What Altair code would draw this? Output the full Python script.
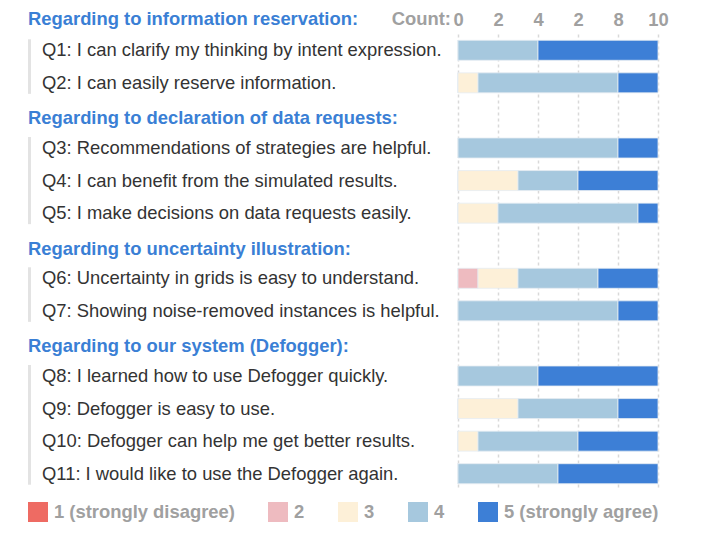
import altair as alt
import pandas as pd

FONT = "Liberation Sans"

q_keys = ["Q1", "Q2", "Q3", "Q4", "Q5", "Q6", "Q7", "Q8", "Q9", "Q10", "Q11"]
questions = [
    "Q1: I can clarify my thinking by intent expression.",
    "Q2: I can easily reserve information.",
    "Q3: Recommendations of strategies are helpful.",
    "Q4: I can benefit from the simulated results.",
    "Q5: I make decisions on data requests easily.",
    "Q6: Uncertainty in grids is easy to understand.",
    "Q7: Showing noise-removed instances is helpful.",
    "Q8: I learned how to use Defogger quickly.",
    "Q9: Defogger is easy to use.",
    "Q10: Defogger can help me get better results.",
    "Q11: I would like to use the Defogger again.",
]
group_keys = ["G1", "G2", "G3", "G4"]
group_titles = [
    "Regarding to information reservation:",
    "Regarding to declaration of data requests:",
    "Regarding to uncertainty illustration:",
    "Regarding to our system (Defogger):",
]
group_first = ["Q1", "Q3", "Q6", "Q8"]
group_last = ["Q2", "Q5", "Q7", "Q11"]

levels = ["1 (strongly disagree)", "2", "3", "4", "5 (strongly agree)"]
level_colors = ["#ee6b63", "#eebbc0", "#fdf0d8", "#a6c8de", "#3d7fd6"]
lvl1 = [0, 0, 0, 0, 0, 0, 0, 0, 0, 0, 0]
lvl2 = [0, 0, 0, 0, 0, 1, 0, 0, 0, 0, 0]
lvl3 = [0, 1, 0, 3, 2, 2, 0, 0, 3, 1, 0]
lvl4 = [4, 7, 8, 3, 7, 4, 8, 4, 5, 5, 5]
lvl5 = [6, 2, 2, 4, 1, 3, 2, 6, 2, 4, 5]

tick_values = [0, 2, 4, 6, 8, 10]
tick_labels = ["0", "2", "4", "2", "8", "10"]

row_order = ["Q1", "Q2", "G2", "Q3", "Q4", "Q5", "G3", "Q6", "Q7", "G4",
             "Q8", "Q9", "Q10", "Q11"]

# tables
recs = []
for i, k in enumerate(q_keys):
    for j, arr in enumerate([lvl1, lvl2, lvl3, lvl4, lvl5]):
        recs.append({"row": k, "level": levels[j], "ord": j, "count": arr[i]})
bars_df = pd.DataFrame(recs)
q_df = pd.DataFrame({"row": q_keys, "label": questions})
g_df = pd.DataFrame({"row": group_keys[1:], "label": group_titles[1:]})
span_df = pd.DataFrame({"row": group_first, "last": group_last})

yscale = alt.Scale(domain=row_order, paddingInner=0, paddingOuter=0)
Y = alt.Y("row:N", scale=yscale, axis=None)

label_expr = "[" + ",".join("'" + t + "'" for t in tick_labels) + "][indexof(" + str(tick_values) + ", datum.value)]"

FS = 18.4

bars = alt.Chart(bars_df).mark_bar(size=20, stroke="#e6ecf2", strokeWidth=0.8).encode(
    x=alt.X("count:Q", stack="zero",
            scale=alt.Scale(domain=[0, 10], range=[450, 650], nice=False),
            axis=alt.Axis(orient="top", values=tick_values, labelExpr=label_expr,
                          grid=True, gridDash=[3, 3], gridColor="#d9d9d9", gridWidth=1.5,
                          domain=False, ticks=False, title=None, labelFlush=False,
                          labelFont=FONT, labelFontSize=FS, labelFontWeight="bold",
                          labelColor="#a0a0a0", labelPadding=15, labelBaseline="middle")),
    y=Y,
    color=alt.Color("level:N", scale=alt.Scale(domain=levels, range=level_colors),
                    legend=alt.Legend(orient="none", legendX=20, legendY=468,
                                      direction="horizontal", title=None,
                                      symbolType="square", symbolSize=400,
                                      symbolStrokeWidth=0, symbolOpacity=1,
                                      labelFont=FONT, labelFontSize=FS, labelLimit=0,
                                      labelFontWeight="bold", labelColor="#a0a0a0",
                                      labelOffset=6, columnPadding=33)),
    order=alt.Order("ord:Q"),
)

gray_rect = alt.Chart(q_df).mark_rect(height=22, color="#e3e3e3").encode(
    x=alt.value(20), x2=alt.value(23), y=Y)
gray_span = alt.Chart(span_df).mark_rule(strokeWidth=3, color="#e3e3e3").encode(
    x=alt.value(21.5), y=Y, y2=alt.Y2("last:N"))

q_text = alt.Chart(q_df).mark_text(align="left", baseline="middle", font=FONT,
                                   fontSize=FS, color="#333333").encode(
    x=alt.value(34), y=Y, text="label:N")
g_text = alt.Chart(g_df).mark_text(align="left", baseline="middle", font=FONT,
                                   fontSize=FS, fontWeight="bold", color="#3a7fd5", dy=3).encode(
    x=alt.value(20), y=Y, text="label:N")
g1_text = alt.Chart(pd.DataFrame({"label": group_titles[:1]})).mark_text(
    align="left", baseline="middle", font=FONT, fontSize=FS, fontWeight="bold",
    color="#3a7fd5").encode(x=alt.value(20), y=alt.value(-15), text="label:N")
count_text = alt.Chart(pd.DataFrame({"label": ["Count:"]})).mark_text(
    align="right", baseline="middle", font=FONT, fontSize=FS, fontWeight="bold",
    color="#a0a0a0").encode(x=alt.value(443), y=alt.value(-15), text="label:N")

chart = alt.layer(gray_rect, gray_span, bars, q_text, g_text, g1_text, count_text).properties(
    width=690, height=456,
    autosize=alt.AutoSizeParams(type="none"),
    padding={"left": 0, "top": 26, "right": 0, "bottom": 48},
).configure_view(stroke=None)

chart.save("out.html", embed_options={"renderer": "svg", "actions": False})
